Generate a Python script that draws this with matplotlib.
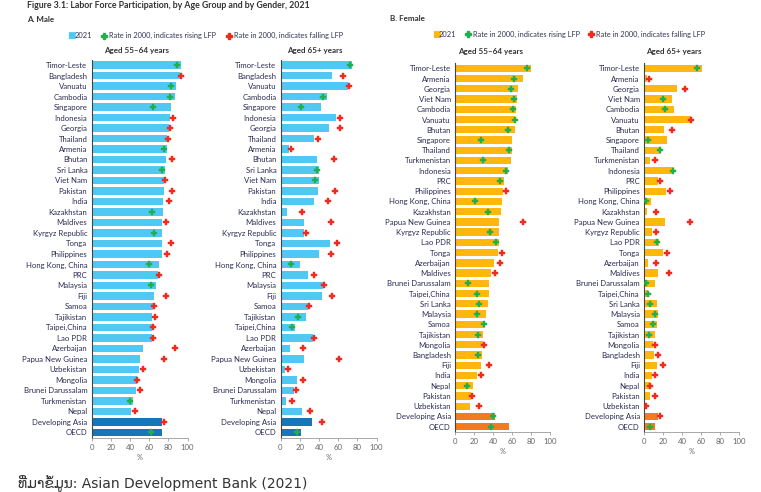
import matplotlib
matplotlib.use("Agg")
import matplotlib.pyplot as plt
import numpy as np

plt.rcParams['font.family'] = ['Lato', 'DejaVu Sans', 'Noto Sans']

# ---------------- data ----------------
male_countries = ["Timor-Leste", "Bangladesh", "Vanuatu", "Cambodia", "Singapore", "Indonesia",
                  "Georgia", "Thailand", "Armenia", "Bhutan", "Sri Lanka", "Viet Nam", "Pakistan",
                  "India", "Kazakhstan", "Maldives", "Kyrgyz Republic", "Tonga", "Philippines",
                  "Hong Kong, China", "PRC", "Malaysia", "Fiji", "Samoa", "Tajikistan",
                  "Taipei,China", "Lao PDR", "Azerbaijan", "Papua New Guinea", "Uzbekistan",
                  "Mongolia", "Brunei Darussalam", "Turkmenistan", "Nepal", "Developing Asia", "OECD"]
male_5564_2021 = [92.8, 92.0, 87.5, 86.6, 82.4, 81.7, 80.7, 79.0, 78.3, 77.9, 76.2, 75.9, 75.5,
                  74.8, 74.8, 73.8, 73.8, 73.8, 73.1, 70.7, 69.0, 67.2, 65.2, 64.5, 63.4,
                  62.8, 62.8, 54.1, 51.0, 49.3, 47.2, 45.9, 42.8, 41.0, 73.1, 73.1]
male_5564_2000 = [89.0, 93.2, 83.1, 82.1, 64.5, 84.8, 81.7, 80.0, 75.5, 83.8, 73.8, 76.5, 83.4,
                  81.0, 62.8, 77.6, 65.5, 82.8, 78.3, 60.0, 70.3, 62.1, 77.6, 65.0, 66.6,
                  63.8, 64.5, 86.9, 75.9, 54.1, 47.9, 50.0, 40.0, 45.5, 75.2, 62.1]
male_65_2021 = [74.4, 53.3, 70.2, 48.1, 42.5, 58.2, 50.9, 35.4, 8.4, 38.2, 40.4, 39.6, 39.3,
                34.7, 6.7, 24.6, 24.9, 51.2, 40.6, 19.8, 28.3, 44.5, 43.5, 29.0, 26.5,
                15.2, 33.6, 9.5, 24.7, 4.6, 17.0, 14.5, 6.0, 22.3, 33.2, 21.6]
male_65_2000 = [71.9, 64.9, 71.2, 43.9, 21.1, 61.8, 62.1, 39.3, 10.5, 56.1, 37.5, 36.1, 56.8,
                49.5, 22.1, 53.0, 27.0, 59.0, 52.3, 10.6, 35.3, 45.5, 53.7, 29.8, 18.4,
                12.0, 35.3, 23.3, 60.8, 7.4, 23.3, 15.9, 11.7, 30.4, 43.1, 17.7]

female_countries = ["Timor-Leste", "Armenia", "Georgia", "Viet Nam", "Cambodia", "Vanuatu",
                    "Bhutan", "Singapore", "Thailand", "Turkmenistan", "Indonesia", "PRC",
                    "Philippines", "Hong Kong, China", "Kazakhstan", "Papua New Guinea",
                    "Kyrgyz Republic", "Lao PDR", "Tonga", "Azerbaijan", "Maldives",
                    "Brunei Darussalam", "Taipei,China", "Sri Lanka", "Malaysia", "Samoa",
                    "Tajikistan", "Mongolia", "Bangladesh", "Fiji", "India", "Nepal", "Pakistan",
                    "Uzbekistan", "Developing Asia", "OECD"]
female_5564_2021 = [79.6, 71.2, 66.3, 64.9, 64.2, 63.5, 62.8, 60.4, 60.0, 58.9, 56.1, 51.9,
                    50.9, 49.5, 48.8, 46.7, 46.0, 45.8, 45.3, 41.4, 37.9, 36.1, 35.4, 34.4,
                    32.6, 31.2, 29.8, 29.8, 28.8, 27.0, 22.8, 19.3, 17.2, 15.4, 42.1, 56.5]
female_5564_2000 = [75.4, 62.5, 58.6, 62.5, 61.4, 63.2, 56.1, 27.0, 57.2, 29.8, 53.3, 47.0,
                    53.3, 20.7, 34.4, 71.2, 36.8, 43.5, 49.8, 47.7, 42.1, 13.3, 23.5, 25.6,
                    23.5, 30.9, 24.6, 30.6, 23.9, 35.4, 27.0, 13.0, 18.0, 25.3, 40.4, 38.2]
female_65_2021 = [61.0, 3.5, 35.1, 29.1, 31.2, 49.1, 21.4, 24.2, 18.2, 6.7, 31.9, 14.7,
                  22.8, 7.7, 3.2, 22.1, 8.4, 16.0, 19.6, 4.5, 14.7, 11.2, 4.2, 13.3,
                  14.7, 13.3, 11.2, 9.4, 10.5, 13.6, 8.4, 6.0, 6.3, 0.7, 15.0, 11.5]
female_65_2000 = [55.8, 5.3, 43.2, 20.4, 22.5, 49.8, 29.1, 4.6, 17.2, 11.2, 30.5, 16.8,
                  27.7, 1.8, 12.3, 48.8, 12.6, 13.3, 23.8, 12.2, 25.9, 2.1, 3.8, 6.6,
                  11.2, 9.8, 5.6, 11.5, 14.7, 20.3, 11.2, 6.3, 11.9, 2.4, 16.4, 6.6]

ticks = [0, 20, 40, 60, 80, 100]

# ---------------- styling ----------------
W, H = 761, 492
fig = plt.figure(figsize=(W / 100, H / 100), dpi=100)
fig.patch.set_facecolor("white")

CYAN = "#4FC8F4"
DBLUE = "#1676B8"
AMBER = "#FFB60D"
DORANGE = "#F47A20"
GREEN = "#20B04B"
RED = "#F02A1E"
LABEL = "#2a2a52"
GRAY = "#666666"


def px(x, y):
    return x / W, 1 - y / H


def axes_px(left, top, right, bottom):
    return fig.add_axes([left / W, 1 - bottom / H, (right - left) / W, (bottom - top) / H])


def panel(ax, cats, v2021, v2000, c_main, c_agg):
    n = len(cats)
    y = np.arange(n)
    colors = [c_agg if c in ("Developing Asia", "OECD") else c_main for c in cats]
    ax.barh(y, v2021, height=0.72, color=colors, edgecolor="none", zorder=2)
    for yi, a, b in zip(y, v2021, v2000):
        mc = GREEN if b <= a else RED
        ax.plot(b, yi, marker="P", ms=4.0, color=mc, mec=mc, mew=0.3, zorder=3)
    ax.set_ylim(n - 0.5, -0.5)
    ax.set_xlim(0, 100)
    ax.set_yticks(y)
    ax.set_yticklabels(cats, fontsize=5.6, color=LABEL)
    ax.tick_params(axis="y", length=0, pad=3)
    ax.set_xticks(ticks)
    ax.set_xticklabels([str(t) for t in ticks], fontsize=5.6, color=GRAY)
    ax.tick_params(axis="x", length=2.5, width=0.5, color="#888888", pad=2)
    for s in ("top", "right"):
        ax.spines[s].set_visible(False)
    ax.spines["left"].set_color("#444444")
    ax.spines["left"].set_linewidth(0.8)
    ax.spines["bottom"].set_color("#999999")
    ax.spines["bottom"].set_linewidth(0.6)
    ax.set_facecolor("none")
    ax.set_xlabel("%", fontsize=5.2, color=GRAY, labelpad=2)


ax1 = axes_px(91.5, 59.8, 187.5, 437.6)
panel(ax1, male_countries, male_5564_2021, male_5564_2000, CYAN, DBLUE)
ax2 = axes_px(280.5, 59.8, 376.5, 437.6)
panel(ax2, male_countries, male_65_2021, male_65_2000, CYAN, DBLUE)
ax3 = axes_px(455, 63.2, 550, 431.8)
panel(ax3, female_countries, female_5564_2021, female_5564_2000, AMBER, DORANGE)
ax4 = axes_px(644, 63.2, 739, 431.8)
panel(ax4, female_countries, female_65_2021, female_65_2000, AMBER, DORANGE)

# ---------------- headings ----------------
fig.text(*px(27, 5), "Figure 3.1: Labor Force Participation, by Age Group and by Gender, 2021",
         fontsize=6.3, fontweight="bold", color="#333333", va="center", ha="left")
fig.text(*px(27, 20), "A. Male", fontsize=5.8, fontweight="bold", color="#333333", va="center")
fig.text(*px(390, 18.3), "B. Female", fontsize=5.8, fontweight="bold", color="#333333", va="center")


def legend_row(y, sq_x, sq_color, g_x, r_x):
    fig.text(*px(sq_x, y), "\u25A0", fontsize=6.5, color=sq_color, va="center", ha="left")
    fig.text(*px(sq_x + 7, y), "2021", fontsize=5.4, color="#333355", va="center")
    fig.lines.append(plt.Line2D([g_x / W], [1 - y / H], marker="P", ms=4, color=GREEN,
                                transform=fig.transFigure, figure=fig))
    fig.text(*px(g_x + 5, y), "Rate in 2000, indicates rising LFP", fontsize=5.35,
             color="#333355", va="center")
    fig.lines.append(plt.Line2D([r_x / W], [1 - y / H], marker="P", ms=4, color=RED,
                                transform=fig.transFigure, figure=fig))
    fig.text(*px(r_x + 5, y), "Rate in 2000, indicates falling LFP", fontsize=5.35,
             color="#333355", va="center")


legend_row(35.7, 67.5, CYAN, 104, 229)
legend_row(34.3, 432, AMBER, 468, 590.7)

for cx, cy, t in [(136.5, 51, "Aged 55\u201364 years"), (315, 51, "Aged 65+ years"),
                  (491, 51.5, "Aged 55\u201364 years"), (673.5, 51.5, "Aged 65+ years")]:
    fig.text(*px(cx, cy), t, fontsize=5.8, fontweight="bold", color="#333333",
             ha="center", va="center")

# source line
source_label = "\u0e97\u0eb5\u0ec8\u0ea1\u0eb2\u0e82\u0ecd\u0ec9\u0ea1\u0eb9\u0e99:"
fig.text(*px(18, 475), source_label + " Asian Development Bank (2021)",
         fontsize=10, color="#333333", ha="left", va="top",
         family=["DejaVu Sans", "Noto Sans", "Lato"])

fig.savefig("out.png", dpi=100, facecolor="white")
